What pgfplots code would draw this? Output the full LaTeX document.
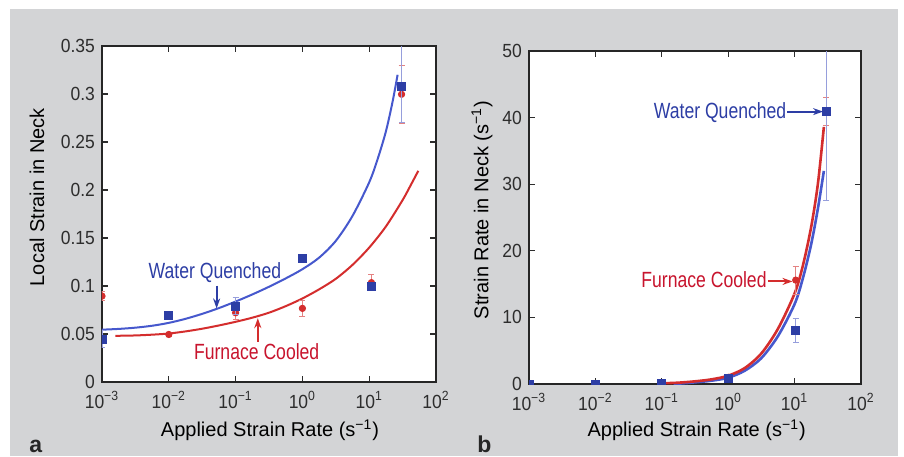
\documentclass[border=0pt]{standalone}
\usepackage{fontspec}
\setmainfont{Liberation Sans}
\newfontfamily\annfont{Liberation Sans}[FakeStretch=0.8]
\newfontfamily\tickfont{Liberation Sans}[FakeStretch=0.92]
\usepackage{pgfplots}
\pgfplotsset{compat=1.18}
\usetikzlibrary{arrows.meta}
\definecolor{bgray}{RGB}{211,212,214}
\definecolor{wqblue}{RGB}{45,62,165}
\definecolor{wqline}{RGB}{70,88,205}
\definecolor{wqerr}{RGB}{150,158,220}
\definecolor{fcred}{RGB}{212,45,45}
\definecolor{fctext}{RGB}{200,20,45}
\definecolor{fcerr}{RGB}{228,130,130}
\definecolor{txtgray}{RGB}{45,45,45}
\begin{document}
\begin{tikzpicture}[x=1pt,y=1pt]
\path[use as bounding box] (0,0) rectangle (452,228);
\fill[white] (0,0) rectangle (452,228);
\fill[bgray] (5,0) rectangle (449,223.5);
% ---------- panel a ----------
\begin{axis}[
  xmode=log,
  at={(51pt,37pt)}, anchor=south west, width=167pt, height=168pt, scale only axis,
  xmin=1e-3, xmax=1e2,
  xtick={1e-3,1e-2,1e-1,1,1e1,1e2},
  xticklabels={10\textsuperscript{−3},10\textsuperscript{−2},10\textsuperscript{−1},10\textsuperscript{0},10\textsuperscript{1},10\textsuperscript{2}},
  xminorticks=false, yminorticks=false,
  scaled y ticks=false,
  tick align=inside, major tick length=3pt,
  every tick/.style={txtgray, line width=0.6pt},
  axis line style={line width=1.3pt, black!85},
  tick label style={font=\tickfont\fontsize{9.5}{10}\selectfont, text=txtgray},
  xticklabel style={yshift=-1.2pt},
  label style={font=\tickfont\fontsize{9.5}{10}\selectfont, text=txtgray},
  axis background/.style={fill=white},
  clip marker paths=true,
  /pgf/number format/assume math mode=true,
  ymin=0, ymax=0.35, ytick={0,0.05,0.1,0.15,0.2,0.25,0.3,0.35},
  yticklabel style={/pgf/number format/fixed, /pgf/number format/precision=2},
  xlabel={Applied Strain Rate (s\textsuperscript{−1})},
  ylabel={Local Strain in Neck},
  every axis x label/.style={at={(axis description cs:0.503,-0.143)}, anchor=center},
  every axis y label/.style={at={(axis description cs:-0.195,0.55)}, anchor=center, rotate=90},
]
\addplot[wqline, line width=1pt, smooth] coordinates {
 (1e-3,0.0545) (1.778e-3,0.0553) (3.162e-3,0.0566) (5.623e-3,0.0586) (1e-2,0.0616)
 (1.778e-2,0.0658) (3.162e-2,0.0710) (5.623e-2,0.0770) (0.1,0.0838) (0.1778,0.0912)
 (0.3162,0.0992) (0.5623,0.1079) (1,0.1175) (1.778,0.1295) (3.162,0.1470) (5.623,0.1730)
 (10,0.2080) (13.34,0.2320) (17.78,0.2610) (22.39,0.2920) (26.61,0.3200)};
\addplot[fcred, line width=1pt, smooth] coordinates {
 (1.585e-3,0.0481) (3.162e-3,0.0485) (5.623e-3,0.0493) (1e-2,0.0505) (1.778e-2,0.0527)
 (3.162e-2,0.0555) (5.623e-2,0.0589) (0.1,0.0627) (0.1778,0.0670) (0.3162,0.0722)
 (0.5623,0.0790) (1,0.0870) (1.778,0.0965) (3.162,0.1075) (5.623,0.1220) (10,0.1400)
 (17.78,0.1620) (31.62,0.1895) (42.17,0.2055) (54.33,0.2200)};
\addplot[only marks, mark=*, mark size=1.6pt, mark options={fill=fcred, draw=fcred},
    error bars/.cd, y dir=both, y explicit, error bar style={fcerr, line width=0.6pt}, error mark options={fcerr, mark size=1.5pt, rotate=90}]
 coordinates {
 (1e-3,0.0895) +- (0,0.005)
 (1e-2,0.0495) +- (0,0.002)
 (0.1,0.0721) +- (0,0.007)
 (1,0.0767) +- (0,0.0085)
 (10.8,0.1035) +- (0,0.0085)
 (30.5,0.2997) +- (0,0.030)};
\addplot[only marks, mark=square*, mark size=2pt, mark options={fill=wqblue, draw=wqblue},
    error bars/.cd, y dir=both, y explicit, error bar style={wqerr, line width=0.6pt}, error mark options={wqerr, mark size=1.5pt, rotate=90}]
 coordinates {
 (1e-3,0.0446) +- (0,0.009)
 (1e-2,0.0693) +- (0,0.002)
 (0.1,0.079) +- (0,0.0088)
 (1,0.129) +- (0,0.002)
 (10.8,0.0993) +- (0,0.003)
 (30.5,0.308) += (0,0.05) -= (0,0.038)};
\node[font=\annfont\fontsize{11}{12}\selectfont, text=wqblue] at (axis cs:0.049,0.1142) {Water Quenched};
\draw[wqblue, line width=1pt, -{Stealth[length=5pt,width=3.5pt]}] (axis cs:0.052,0.1004) -- (axis cs:0.052,0.0766);
\node[font=\annfont\fontsize{11}{12}\selectfont, text=fctext] at (axis cs:0.207,0.0314) {Furnace Cooled};
\draw[fcred, line width=1pt, -{Stealth[length=5pt,width=3.5pt]}] (axis cs:0.215,0.0417) -- (axis cs:0.215,0.0665);
\end{axis}
% ---------- panel b ----------
\begin{axis}[
  xmode=log,
  at={(264.5pt,36pt)}, anchor=south west, width=166pt, height=166.5pt, scale only axis,
  xmin=1e-3, xmax=1e2,
  xtick={1e-3,1e-2,1e-1,1,1e1,1e2},
  xticklabels={10\textsuperscript{−3},10\textsuperscript{−2},10\textsuperscript{−1},10\textsuperscript{0},10\textsuperscript{1},10\textsuperscript{2}},
  xminorticks=false, yminorticks=false,
  scaled y ticks=false,
  tick align=inside, major tick length=3pt,
  every tick/.style={txtgray, line width=0.6pt},
  axis line style={line width=1.3pt, black!85},
  tick label style={font=\tickfont\fontsize{9.5}{10}\selectfont, text=txtgray},
  xticklabel style={yshift=-1.2pt},
  label style={font=\tickfont\fontsize{9.5}{10}\selectfont, text=txtgray},
  axis background/.style={fill=white},
  clip marker paths=true,
  /pgf/number format/assume math mode=true,
  ymin=0, ymax=50, ytick={0,10,20,30,40,50},
  xlabel={Applied Strain Rate (s\textsuperscript{−1})},
  ylabel={Strain Rate in Neck (s\textsuperscript{−1})},
  every axis x label/.style={at={(axis description cs:0.505,-0.138)}, anchor=center},
  every axis y label/.style={at={(axis description cs:-0.1416,0.5225)}, anchor=center, rotate=90},
]
\addplot[wqline, line width=1.3pt, smooth] coordinates {
 (0.15,0.02) (0.1778,0.05) (0.3162,0.25) (0.5623,0.5) (1,0.95) (1.778,2.0) (3.162,3.9)
 (5.623,7.2) (10,12.0) (13.34,15.9) (17.78,21.0) (22.39,26.3) (27.6,32.0)};
\addplot[fcred, line width=1.3pt, smooth] coordinates {
 (0.1,0.1) (0.1778,0.2) (0.3162,0.4) (0.5623,0.7) (1,1.25) (1.778,2.4) (3.162,4.6)
 (5.623,8.3) (10,13.6) (13.34,17.8) (17.78,23.6) (22.39,30.0) (27.6,38.6)};
\addplot[only marks, mark=*, mark size=1.6pt, mark options={fill=fcred, draw=fcred},
    error bars/.cd, y dir=both, y explicit, error bar style={fcerr, line width=0.6pt}, error mark options={fcerr, mark size=1.5pt, rotate=90}]
 coordinates {
 (1e-3,0.05) +- (0,0)
 (1e-2,0.05) +- (0,0)
 (0.1,0.1) +- (0,0)
 (1,1.0) +- (0,0)
 (10.4,15.6) +- (0,2.1)
 (29.9,41) +- (0,2.1)};
\addplot[only marks, mark=square*, mark size=2pt, mark options={fill=wqblue, draw=wqblue},
    error bars/.cd, y dir=both, y explicit, error bar style={wqerr, line width=0.6pt}, error mark options={wqerr, mark size=1.5pt, rotate=90}]
 coordinates {
 (1e-3,0) +- (0,0)
 (1e-2,0) +- (0,0)
 (0.1,0.1) +- (0,0)
 (1,0.9) +- (0,0)
 (10.4,8.1) +- (0,1.8)
 (29.9,41) +- (0,13.5)};
\node[anchor=east, inner sep=0pt, font=\annfont\fontsize{11}{12}\selectfont, text=wqblue] at (axis cs:7.6,40.8) {Water Quenched};
\draw[wqblue, line width=1pt, -{Stealth[length=5pt,width=3.5pt]}] (axis cs:7.8,40.9) -- (axis cs:26.8,40.9);
\node[anchor=east, inner sep=0pt, font=\annfont\fontsize{11}{12}\selectfont, text=fctext] at (axis cs:3.84,15.6) {Furnace Cooled};
\draw[fcred, line width=1pt, -{Stealth[length=5pt,width=3.5pt]}] (axis cs:3.95,15.4) -- (axis cs:9.3,15.4);
\end{axis}
\node[anchor=base west, inner sep=0pt, font=\bfseries\fontsize{11.5}{12}\selectfont, text=black!85] at (14.5,1.6) {a};
\node[anchor=base west, inner sep=0pt, font=\bfseries\fontsize{11.5}{12}\selectfont, text=black!85] at (238.5,1.6) {b};
\end{tikzpicture}
\end{document}
